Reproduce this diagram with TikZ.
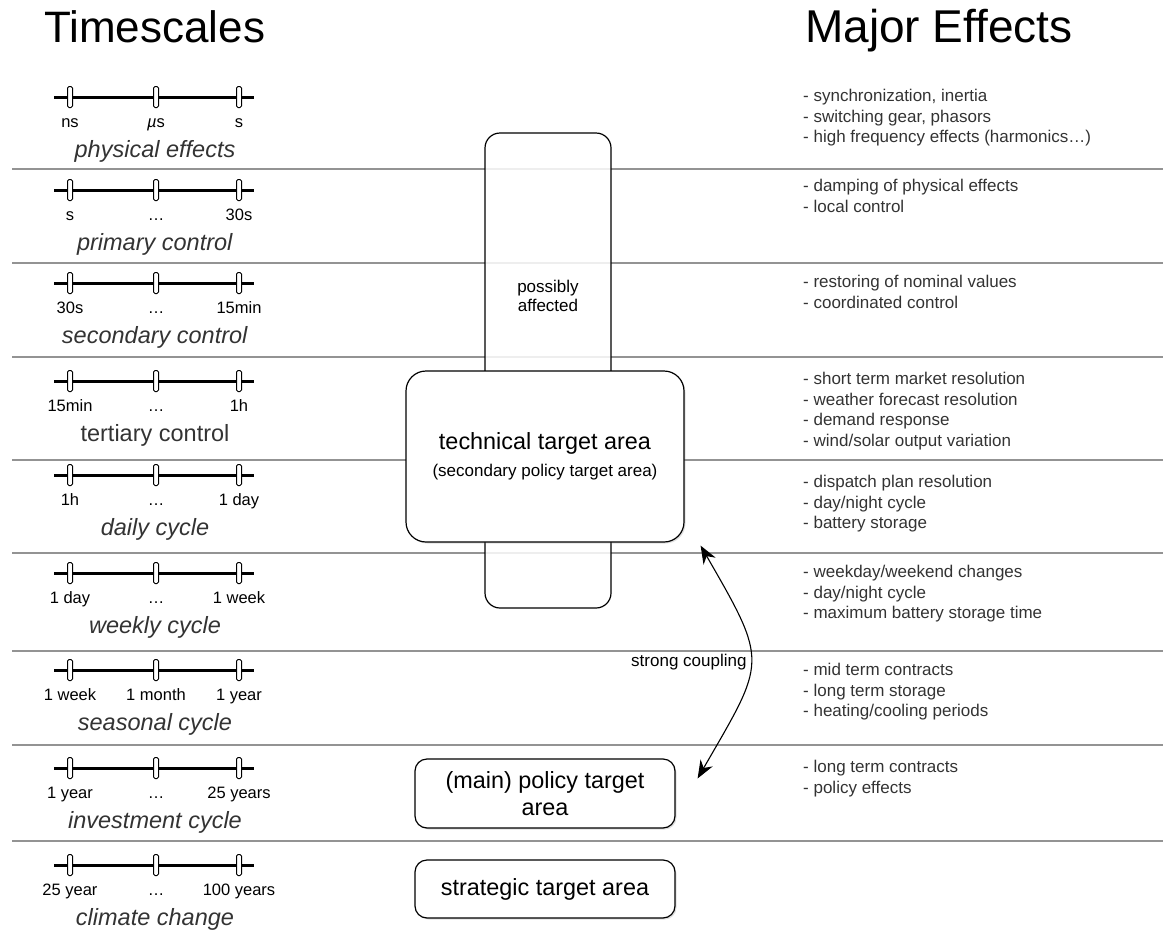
\documentclass[tikz,border=0pt]{standalone}
\usepackage{fontspec}
\setmainfont{Liberation Sans}
\usetikzlibrary{shadows,arrows.meta}

\begin{document}
\begin{tikzpicture}[x=1pt, y=-1pt,
	rowline/.style={gray!85, line width=1.4pt},
	scalebar/.style={line width=3pt},
	tickmark/.style={draw, fill=white, line width=1pt, rounded corners=1.5pt, minimum width=5pt, minimum height=21pt, inner sep=0pt},
	ticklabel/.style={anchor=base, inner sep=0pt, font=\fontsize{16.5}{19}\selectfont},
	rowname/.style={anchor=base, inner sep=0pt, text=black!80, font=\fontsize{23.5}{27}\selectfont},
	effects/.style={anchor=north west, align=left, inner sep=0pt, text=black!80, font=\fontsize{17}{20.7}\selectfont},
	heading/.style={anchor=base west, inner sep=0pt, font=\fontsize{44}{50}\selectfont},
	area/.style={draw, fill=white, line width=1.2pt, align=center, font=\fontsize{23.4}{27}\selectfont,
		drop shadow={opacity=0.25, shadow xshift=1.5pt, shadow yshift=-1.5pt}},
	coupling/.style={line width=1.1pt}
	]
	\useasboundingbox (0,0) rectangle (1163,932);
	
	% Draw the two headings
	\node[heading] (timescales) at (44,42) {Timescales};
	\node[heading, font=\fontsize{46}{50}\selectfont] (majoreffects) at (805,42) {Major Effects};
	
	% Draw row separators
	\foreach \ly in {169,263,357,460,553,651,745,841}
	\draw[rowline] (12,\ly) -- (1163,\ly);
	
	% Draw each timescale: bar, three ticks, tick labels and its name
	\foreach \n/\by/\la/\lb/\lc/\nm in {
		1/97/ns/\textit{µ}s/s/\textit{physical effects},
		2/190/s/…/30s/\textit{primary control},
		3/283/30s/…/15min/\textit{secondary control},
		4/381/15min/…/1h/tertiary control,
		5/475/1h/…/1 day/\textit{daily cycle},
		6/573/1 day/…/1 week/\textit{weekly cycle},
		7/670/1 week/1 month/1 year/\textit{seasonal cycle},
		8/768/1 year/…/25 years/\textit{investment cycle},
		9/865/25 year/…/100 years/\textit{climate change}}
	{
		\draw[scalebar] (54,\by) -- (254,\by);
		\node[tickmark] (t\n a) at (70,\by) {};
		\node[tickmark] (t\n b) at (156,\by) {};
		\node[tickmark] (t\n c) at (239,\by) {};
		\node[ticklabel] (l\n a) at (70,\by+30) {\la};
		\node[ticklabel] (l\n b) at (156,\by+30) {\lb};
		\node[ticklabel] (l\n c) at (239,\by+30) {\lc};
		\node[rowname] (name\n) at (155,\by+60) {\nm};
	}
	
	% Draw the major effects of each row
	\node[effects] (e1) at (803,89) {- synchronization, inertia\\- switching gear, phasors\\- high frequency effects (harmonics…)};
	\node[effects] (e2) at (803,179) {- damping of physical effects\\- local control};
	\node[effects] (e3) at (803,275) {- restoring of nominal values\\- coordinated control};
	\node[effects] (e4) at (803,372) {- short term market resolution\\- weather forecast resolution\\- demand response\\- wind/solar output variation};
	\node[effects] (e5) at (803,475) {- dispatch plan resolution\\- day/night cycle\\- battery storage};
	\node[effects] (e6) at (803,565) {- weekday/weekend changes\\- day/night cycle\\- maximum battery storage time};
	\node[effects] (e7) at (803,663) {- mid term contracts\\- long term storage\\- heating/cooling periods};
	\node[effects] (e8) at (803,760) {- long term contracts\\- policy effects};
	
	% Draw the target areas
	\node[draw, fill=white, fill opacity=0.85, line width=1.2pt, rounded corners=15pt, minimum width=126pt, minimum height=475pt] (affected) at (548,370.5) {};
	\node[align=center, font=\fontsize{17}{19.5}\selectfont] (affectedtext) at (548,296) {possibly\\affected};
	\node[area, rounded corners=20pt, minimum width=278pt, minimum height=171pt] (tech) at (545,456.5) {technical target area\\{\fontsize{17}{20}\selectfont (secondary policy target area)}};
	\node[area, rounded corners=12pt, minimum width=260pt, minimum height=69pt] (policy) at (545,793.5) {(main) policy target\\area};
	\node[area, rounded corners=12pt, minimum width=260pt, minimum height=58pt] (strategic) at (545,889) {strategic target area};
	
	% Draw the coupling between technical and policy target area
	\coordinate (ct) at ([xshift=16pt, yshift=-3pt]tech.south east);
	\coordinate (cb) at ([xshift=22pt, yshift=15pt]policy.east);
	\draw[coupling, {Stealth[length=18pt, width=14pt]}-{Stealth[length=18pt, width=14pt]}] (ct) to[out=-60, in=60, looseness=1.5] node[pos=0.5, anchor=east, font=\fontsize{17}{20}\selectfont] (couplinglabel) {strong coupling} (cb);
\end{tikzpicture}
\end{document}
